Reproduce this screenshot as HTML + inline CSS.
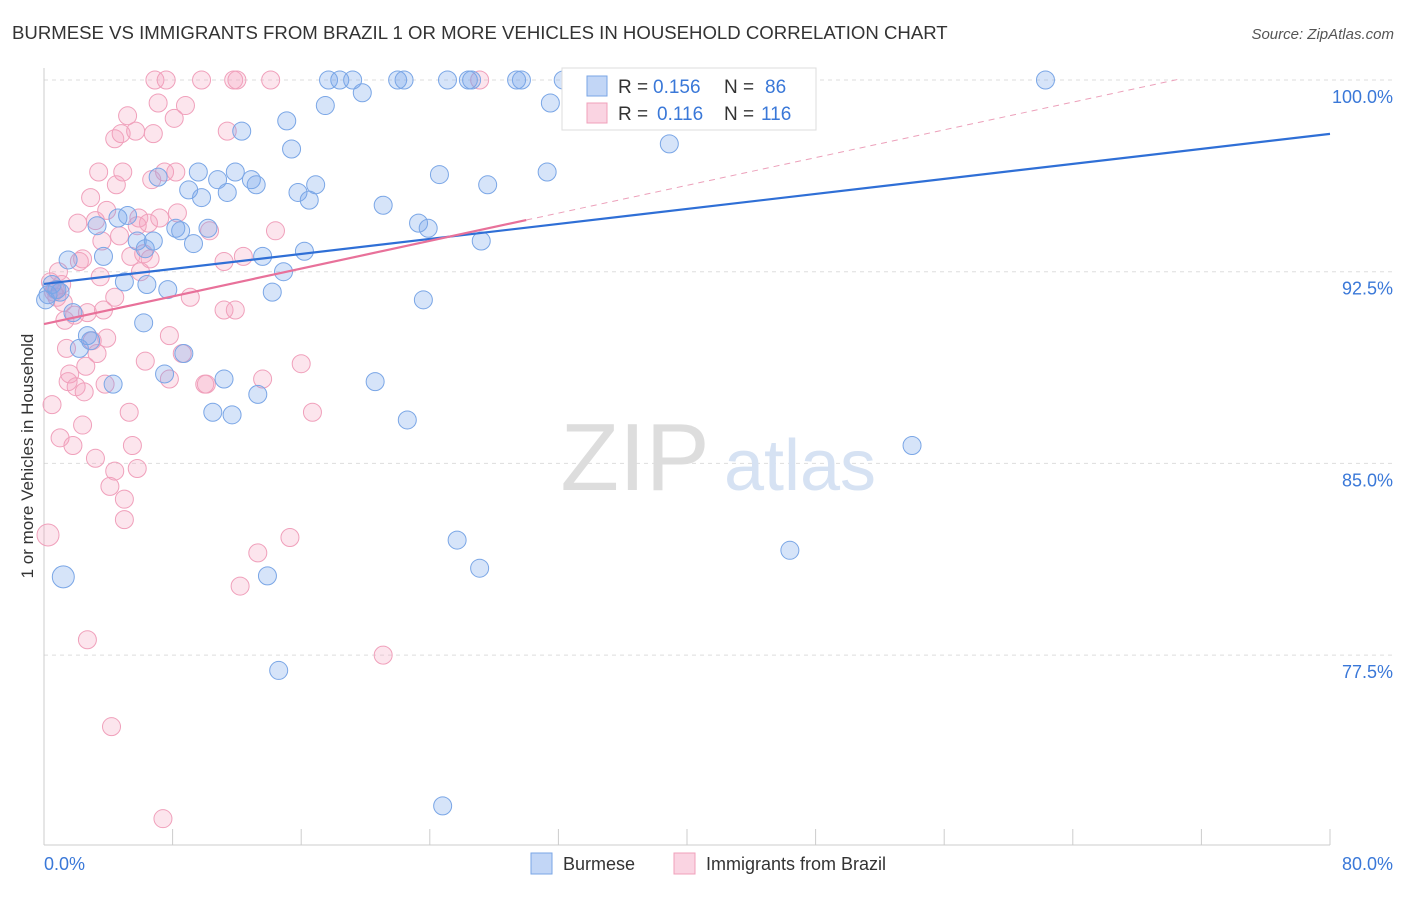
<!DOCTYPE html>
<html><head><meta charset="utf-8">
<style>
body{margin:0;background:#fff;font-family:"Liberation Sans",sans-serif;}
svg text{font-family:"Liberation Sans",sans-serif;}
</style></head>
<body>
<svg id="chart" width="1406" height="892" xmlns="http://www.w3.org/2000/svg">
<text x="12" y="39" font-size="18.6" fill="#333">BURMESE VS IMMIGRANTS FROM BRAZIL 1 OR MORE VEHICLES IN HOUSEHOLD CORRELATION CHART</text>
<text x="1394" y="39" font-size="15" fill="#555" font-style="italic" text-anchor="end">Source: ZipAtlas.com</text>
<g id="grid"></g>
<g>
<text x="635" y="490" font-size="96" fill="#ddd" text-anchor="middle" font-family="Liberation Serif, serif">ZIP</text>
<text x="800" y="490" font-size="72" fill="#d6e2f3" text-anchor="middle">atlas</text>
</g>
<g id="pts"></g>
<g id="lines"></g>
<text transform="translate(33,456) rotate(-90)" font-size="17" fill="#333" text-anchor="middle">1 or more Vehicles in Household</text>
<g>
<rect x="562" y="68" width="254" height="62" fill="#fff" stroke="#ddd"/>
<rect x="587" y="76" width="20" height="20" fill="rgba(120,165,235,0.45)" stroke="#7aa6e6"/>
<text x="618" y="93" font-size="19" fill="#333">R =</text>
<text x="653" y="93" font-size="19" fill="#3a78d8">0.156</text>
<text x="724" y="93" font-size="19" fill="#333">N =</text>
<text x="765" y="93" font-size="19" fill="#3a78d8">86</text>
<rect x="587" y="103" width="20" height="20" fill="rgba(245,160,190,0.45)" stroke="#f0a0bb"/>
<text x="618" y="120" font-size="19" fill="#333">R =</text>
<text x="657" y="120" font-size="19" fill="#3a78d8">0.116</text>
<text x="724" y="120" font-size="19" fill="#333">N =</text>
<text x="761" y="120" font-size="19" fill="#3a78d8">116</text>
</g>
<g>
<rect x="531" y="853" width="21" height="21" fill="rgba(120,165,235,0.45)" stroke="#7aa6e6"/>
<text x="563" y="870" font-size="18" fill="#333">Burmese</text>
<rect x="674" y="853" width="21" height="21" fill="rgba(245,160,190,0.45)" stroke="#f0a0bb"/>
<text x="706" y="870" font-size="18" fill="#333">Immigrants from Brazil</text>
</g>
</svg>
<script>
const xTicks=[0,8,16,24,32,40,48,56,64,72,80];
const yTicks=[100,92.5,85,77.5];
const yTickLabels=["100.0%","92.5%","85.0%","77.5%"];
const xTickLabels=["0.0%","80.0%"];
const blueX=[1.2,0.25,0.5,0.8,1.5,1.8,2.2,2.7,2.9,3.3,3.7,4.3,4.6,5.2,5.0,5.8,6.3,6.8,6.2,6.4,7.1,7.7,7.5,8.2,8.5,8.7,9.0,9.6,9.3,9.8,10.2,10.5,10.8,11.2,11.4,11.7,11.9,12.3,12.9,13.2,13.3,13.6,13.9,14.2,14.6,14.9,15.1,15.4,15.8,16.2,16.5,16.9,17.5,17.7,18.4,19.2,19.8,20.6,21.1,22.0,22.4,22.6,23.3,23.6,23.9,24.6,24.8,25.1,25.7,26.4,26.6,27.1,27.2,27.6,29.4,29.7,31.3,31.5,32.3,38.9,46.4,54.0,62.3,0.1,1.0];
const blueY=[80.56,91.6,92.0,91.8,92.96,90.9,89.5,90.0,89.8,94.3,93.1,88.1,94.6,94.7,92.1,93.7,93.4,93.7,90.5,92.0,96.2,91.8,88.5,94.2,94.1,89.3,95.7,96.4,93.6,95.4,94.2,87.0,96.1,88.3,95.6,86.9,96.4,98.0,96.1,95.9,87.7,93.1,80.6,91.7,76.9,92.5,98.4,97.3,95.6,93.3,95.3,95.9,99.0,100,100,100,99.5,88.2,95.1,100,100,86.7,94.4,91.4,94.2,96.3,71.6,100,82.0,100,100,80.9,93.7,95.9,100,100,96.4,99.1,100,97.5,81.6,85.7,100,91.4,91.7];
const pinkX=[0.25,0.5,0.6,0.8,1.0,1.1,1.2,1.4,1.5,1.6,1.8,2.0,2.1,2.2,2.4,2.5,2.6,2.7,2.7,2.9,3.2,3.2,3.3,3.4,3.6,3.7,3.8,3.9,4.1,4.2,4.4,4.4,4.5,4.7,4.8,4.9,5.0,5.0,5.2,5.3,5.4,5.5,5.7,5.8,5.9,6.0,6.2,6.3,6.5,6.6,6.7,6.8,6.9,7.1,7.2,7.4,7.5,7.6,7.8,7.8,8.1,8.2,8.3,8.6,8.8,9.1,9.8,10.0,10.1,10.3,11.2,11.2,11.4,11.8,11.9,12.0,12.2,12.4,13.3,13.6,14.1,14.4,15.3,16.0,16.7,21.1,27.1,0.9,0.4,0.7,1.3,1.9,2.4,3.5,3.9,5.8,4.4,3.0];
const pinkY=[82.2,87.3,91.7,91.5,86.0,92.0,91.3,89.5,88.2,88.5,85.7,88.0,94.4,92.9,86.5,87.8,88.8,90.9,78.1,95.4,94.5,85.2,89.3,96.4,93.7,91.0,88.1,94.9,84.1,74.7,84.7,97.7,95.9,93.9,97.9,96.4,83.6,82.8,98.6,87.0,93.1,85.7,98.0,84.8,94.6,92.5,93.2,89.0,94.4,93.0,96.1,97.9,100,99.1,94.6,71.1,96.4,100,88.3,90.0,98.5,96.4,94.8,89.3,99.0,91.5,100,88.1,88.1,94.1,92.9,91.0,98.0,100,91.0,100,80.2,93.1,81.5,88.3,100,94.1,82.1,88.9,87.0,77.5,100,92.5,92.1,91.8,90.6,90.8,93.0,92.3,89.9,94.3,91.5,89.8];
const blueTrend=[92.02,0.0734];
const pinkTrend=[90.45,0.1357];
const pinkSolidEnd=30, pinkDashEnd=70.6;

const X0=44,X1=1330,Y100=80,PX75=191.7;
const sx=v=>X0+(v/80)*(X1-X0);
const sy=v=>Y100+(100-v)/7.5*PX75;
const NS="http://www.w3.org/2000/svg";
function mk(tag,attrs,parent){const e=document.createElementNS(NS,tag);for(const k in attrs)e.setAttribute(k,attrs[k]);parent.appendChild(e);return e;}
const grid=document.getElementById('grid');
yTicks.forEach((t,i)=>{
  const l=mk('line',{x1:X0,x2:1395,y1:sy(t),y2:sy(t),stroke:'#ddd','stroke-dasharray':'4,4'},grid);
  
  
  const tx=mk('text',{x:1393,y:sy(t)+23,'font-size':18,fill:'#3a78d8','text-anchor':'end'},grid);
  tx.textContent=yTickLabels[i];
  
  
});
const ax=mk('line',{x1:X0,x2:X0,y1:68,y2:845,stroke:'#ccc'},grid);


const bx=mk('line',{x1:X0,x2:X1,y1:845,y2:845,stroke:'#ccc'},grid);


xTicks.forEach(t=>{
  const l=mk('line',{x1:sx(t),x2:sx(t),y1:829,y2:845,stroke:'#ccc'},grid);
  
  
});
[[0,'start',44],[80,'end',1393]].forEach((a,i)=>{
  const tx=mk('text',{x:a[2],y:870,'font-size':18,fill:'#3a78d8','text-anchor':a[1]},grid);
  tx.textContent=xTickLabels[i];
  
  
});
const pts=document.getElementById('pts');
pinkX.forEach((x,i)=>{
  const c=mk('circle',{cx:sx(x),cy:sy(pinkY[i]),r:i==0?11:9,fill:'rgba(245,160,190,0.28)',stroke:'#f0a0bb','stroke-width':1},pts);
  
  
});
blueX.forEach((x,i)=>{
  const c=mk('circle',{cx:sx(x),cy:sy(blueY[i]),r:i==0?11:9,fill:'rgba(120,165,235,0.3)',stroke:'#7aa6e6','stroke-width':1},pts);
  
  
});
const lines=document.getElementById('lines');
const bl=mk('line',{x1:sx(0),y1:sy(blueTrend[0]),x2:sx(80),y2:sy(blueTrend[0]+blueTrend[1]*80),stroke:'#2f6fd6','stroke-width':2.2},lines);


const pl=mk('line',{x1:sx(0),y1:sy(pinkTrend[0]),x2:sx(pinkSolidEnd),y2:sy(pinkTrend[0]+pinkTrend[1]*pinkSolidEnd),stroke:'#e8719a','stroke-width':2.2},lines);


const pd=mk('line',{x1:sx(pinkSolidEnd),y1:sy(pinkTrend[0]+pinkTrend[1]*pinkSolidEnd),x2:sx(pinkDashEnd),y2:sy(pinkTrend[0]+pinkTrend[1]*pinkDashEnd),stroke:'#eca0ba','stroke-width':1,'stroke-dasharray':'6,5'},lines);


</script>
</body></html>
